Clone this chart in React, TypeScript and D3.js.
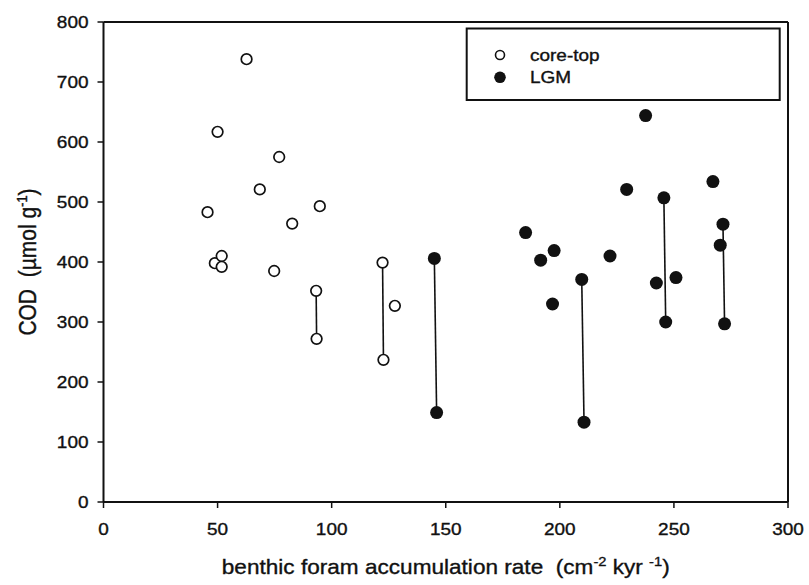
import React from "react";
import * as d3 from "d3";

const xTicks = [0, 50, 100, 150, 200, 250, 300];
const yTicks = [0, 100, 200, 300, 400, 500, 600, 700, 800];

const coreTopX = [45.6, 48.8, 50, 51.8, 51.8, 62.7, 68.5, 74.8, 77, 82.7, 93.2, 93.4, 94.8, 122.3, 122.7, 127.7];
const coreTopY = [483, 398, 617, 410, 392, 738, 521, 385, 575, 464, 352, 272, 493, 399, 237, 327];

const lgmX = [145, 146, 185, 191.6, 197.5, 196.8, 209.6, 210.6, 222, 229.3, 237.6, 242.3, 245.6, 246.4, 250.9, 267.1, 271.5, 270.3, 272.2];
const lgmY = [406, 149, 449, 403, 419, 330, 371, 133, 410, 521, 644, 365, 507, 300, 374, 534, 463, 428, 297];

// vertical connectors: [x1, y1, x2, y2]
const coreTopLinks = [
  [51.8, 410, 51.8, 392],
  [93.2, 352, 93.4, 272],
  [122.3, 399, 122.7, 237],
];
const lgmLinks = [
  [145, 406, 146, 149],
  [209.6, 371, 210.6, 133],
  [245.6, 507, 246.4, 300],
  [271.5, 463, 272.2, 297],
];

const legendLabels = ["core-top", "LGM"];

export default function App() {
  const W = 809, H = 585;
  const left = 103.5, right = 788, top = 22, bottom = 502;
  const x = d3.scaleLinear().domain([0, 300]).range([left, right]);
  const y = d3.scaleLinear().domain([0, 800]).range([bottom, top]);
  const font = "'Liberation Sans', Arial, sans-serif";
  const ink = "#111";
  const sx = 1.15;
  const txt = { fill: ink, stroke: ink, strokeWidth: 0.35 };

  return (
    <svg width={W} height={H} style={{ position: "absolute", left: 0, top: 0, background: "#fff" }} fontFamily={font}>
      <rect x={0} y={0} width={W} height={H} fill="#fff" />
      {/* frame */}
      <line x1={left} x2={right} y1={top} y2={top} stroke={ink} strokeWidth={2} />
      <line x1={right} x2={right} y1={top} y2={bottom} stroke={ink} strokeWidth={2} />
      <line x1={left} x2={right} y1={bottom} y2={bottom} stroke={ink} strokeWidth={2} />
      <line x1={left} x2={left} y1={top} y2={bottom} stroke={ink} strokeWidth={2} />
      {/* y ticks */}
      {yTicks.map((t) => (
        <g key={"y" + t}>
          <line x1={left - 6} x2={left} y1={y(t)} y2={y(t)} stroke={ink} strokeWidth={1.5} />
          <g transform={`translate(${left - 15},${y(t)}) scale(${sx},1)`}>
            <text dy="0.36em" textAnchor="end" fontSize={16.5} {...txt}>{t}</text>
          </g>
        </g>
      ))}
      {/* x ticks */}
      {xTicks.map((t) => (
        <g key={"x" + t}>
          <line x1={x(t)} x2={x(t)} y1={bottom} y2={bottom + 6} stroke={ink} strokeWidth={1.5} />
          <g transform={`translate(${x(t)},${bottom + 27}) scale(${sx},1)`}>
            <text dy="0.36em" textAnchor="middle" fontSize={16.5} {...txt}>{t}</text>
          </g>
        </g>
      ))}
      {/* axis titles */}
      <g transform={`translate(${(left + right) / 2},567) scale(1.13,1)`}>
        <text dy="0.35em" textAnchor="middle" fontSize={20} {...txt} style={{ whiteSpace: "pre" }}>
          {"benthic foram accumulation rate  (cm"}<tspan dy="-8" fontSize={13}>-2</tspan><tspan dy="8">{" kyr "}</tspan><tspan dy="-8" fontSize={13}>-1</tspan><tspan dy="8">)</tspan>
        </text>
      </g>
      <g transform={`translate(28,${(top + bottom) / 2}) scale(${sx},1) rotate(-90)`}>
        <text dy="0.35em" textAnchor="middle" fontSize={21} {...txt} style={{ whiteSpace: "pre" }}>
          {"COD  (µmol g"}<tspan dy="-8" fontSize={13}>-1</tspan><tspan dy="8">)</tspan>
        </text>
      </g>
      {/* connectors */}
      {coreTopLinks.concat(lgmLinks).map((l, i) => (
        <line key={"l" + i} x1={x(l[0])} y1={y(l[1])} x2={x(l[2])} y2={y(l[3])} stroke={ink} strokeWidth={1.6} />
      ))}
      {/* core-top */}
      {coreTopX.map((v, i) => (
        <circle key={"c" + i} cx={x(v)} cy={y(coreTopY[i])} r={5.3} fill="#fff" stroke={ink} strokeWidth={1.7} />
      ))}
      {/* LGM */}
      {lgmX.map((v, i) => (
        <circle key={"g" + i} cx={x(v)} cy={y(lgmY[i])} r={6.5} fill={ink} />
      ))}
      {/* legend */}
      <rect x={466.7} y={28.5} width={313} height={71.5} fill="#fff" stroke={ink} strokeWidth={2} />
      <circle cx={500} cy={55} r={4.5} fill="#fff" stroke={ink} strokeWidth={1.6} />
      <circle cx={500} cy={77.3} r={5.8} fill={ink} />
      <g transform={`translate(530,55) scale(${sx},1)`}>
        <text dy="0.36em" fontSize={16.5} {...txt}>{legendLabels[0]}</text>
      </g>
      <g transform={`translate(530,77.3) scale(${sx},1)`}>
        <text dy="0.36em" fontSize={16.5} {...txt}>{legendLabels[1]}</text>
      </g>
    </svg>
  );
}
